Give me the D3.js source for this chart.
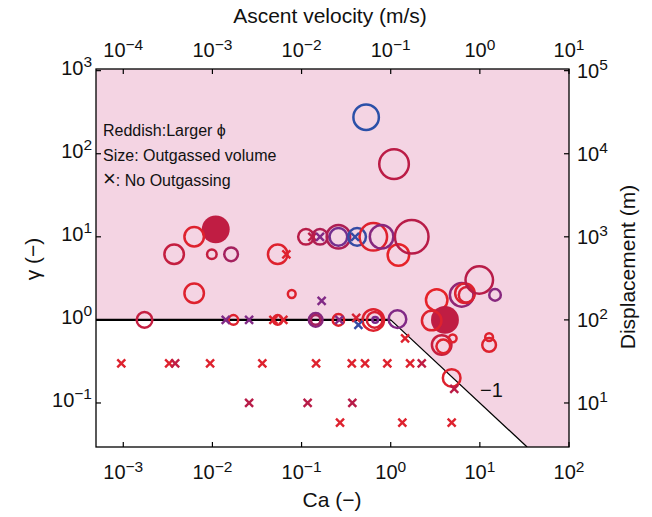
<!DOCTYPE html>
<html>
<head>
<meta charset="utf-8">
<script src="https://cdn.jsdelivr.net/npm/d3@7"></script>
<style>
  html, body { margin: 0; padding: 0; background: #fff; }
  svg { display: block; font-family: "Liberation Sans", Arial, sans-serif; }
</style>
</head>
<body>
<svg id="chart" width="652" height="517"></svg>
<script>
// Outgassing runs: capillary number, gamma, porosity (0 = small, 1 = large), outgassed volume, filled marker
const outCa    = [0.53, 1.09, 0.0109, 0.00624, 0.00372, 0.00985, 0.0162, 0.054, 0.00624, 0.0776,
                  0.00173, 0.0172, 0.054, 0.144, 0.144, 0.259, 0.638, 0.66, 0.67, 1.19,
                  3.28, 4.06, 2.88, 6.25, 6.8, 7.1, 9.85, 14.8, 3.73, 3.89,
                  4.96, 12.7, 12.7, 4.83, 1.22, 0.112, 0.161, 0.259, 0.259, 0.42,
                  0.638, 0.79, 1.72];
const outGamma = [275, 75, 12.3, 10.0, 6.16, 6.16, 6.16, 6.16, 2.09, 2.05,
                  1.0, 1.0, 1.0, 1.0, 1.0, 1.0, 1.0, 1.0, 1.0, 1.02,
                  1.74, 1.0, 0.98, 2.0, 2.09, 2.0, 3.02, 2.0, 0.5, 0.48,
                  0.60, 0.62, 0.5, 0.2, 6.04, 10, 10, 10, 10, 10,
                  10, 10, 10];
const outPhi   = [0.0, 0.72, 0.75, 0.95, 0.78, 0.78, 0.6, 0.95, 0.95, 0.95,
                  0.78, 0.95, 0.95, 0.45, 0.6, 0.95, 0.95, 0.9, 0.4, 0.42,
                  1.0, 0.75, 0.95, 0.5, 0.95, 0.9, 0.7, 0.45, 0.8, 0.95,
                  0.95, 0.95, 0.95, 0.95, 1.0, 0.7, 0.65, 0.65, 0.35, 0.05,
                  0.95, 0.45, 0.7];
const outVol   = [60, 79, 60, 37, 37, 11, 20, 37, 37, 8,
                  25, 11, 11, 20, 11, 15, 44, 25, 5, 31,
                  44, 60, 37, 52, 37, 25, 69, 15, 37, 20,
                  8, 8, 20, 31, 44, 25, 25, 52, 31, 31,
                  69, 52, 100];
const outFilled = [0, 0, 1, 0, 0, 0, 0, 0, 0, 0,
                   0, 0, 0, 0, 0, 0, 0, 0, 0, 0,
                   0, 1, 0, 0, 0, 0, 0, 0, 0, 0,
                   0, 0, 0, 0, 0, 0, 0, 0, 0, 0,
                   0, 0, 0];

// Runs without outgassing
const noCa    = [0.0675, 0.168, 0.0141, 0.0258, 0.0483, 0.0625, 0.265, 0.434, 0.41, 1.45,
                 0.132, 0.161, 0.398,
                 0.00095, 0.00327, 0.00382, 0.00942, 0.0363, 0.1455, 0.366, 0.515, 0.916, 1.65, 2.23,
                 0.0258, 0.117, 0.371,
                 0.27, 1.35, 4.83, 5.16];
const noGamma = [6.16, 1.69, 1, 1, 1, 1, 1, 0.87, 1.06, 0.60,
                 10, 10, 10,
                 0.3, 0.3, 0.3, 0.3, 0.3, 0.3, 0.3, 0.3, 0.3, 0.3, 0.3,
                 0.1, 0.1, 0.1,
                 0.058, 0.058, 0.058, 0.148];
const noPhi   = [0.95, 0.42, 0.42, 0.42, 0.95, 0.95, 0.42, 0.05, 0.9, 0.95,
                 0.72, 0.42, 0.05,
                 0.95, 0.95, 0.75, 0.95, 0.95, 0.95, 0.95, 0.95, 0.95, 0.95, 0.75,
                 0.7, 0.7, 0.7,
                 0.95, 0.95, 0.95, 0.72];

// Tick exponents
const caExp    = [-3, -2, -1, 0, 1, 2];
const velExp   = [-4, -3, -2, -1, 0, 1];
const gammaExp = [-1, 0, 1, 2, 3];
const dispExp  = [1, 2, 3, 4, 5];

const legendLines = [
  [["Reddish:Larger ", 16], ["\u03D5", 16]],
  [["Size: Outgassed volume", 16]],
  [["\u00D7", 22], [": No Outgassing", 16]]
];

const W = 652, H = 517;
const pLeft = 96, pRight = 569, pTop = 69, pBottom = 447;
const caMin = Math.pow(10, -3.306), caMax = 100;
const gMin = Math.pow(10, -1.53), gMax = Math.pow(10, 3.02);

const svg = d3.select("#chart");

const x = d3.scaleLog().domain([caMin, caMax]).range([pLeft, pRight]);
const xVel = d3.scaleLog().domain([caMin * 0.1, caMax * 0.1]).range([pLeft, pRight]);
const y = d3.scaleLog().domain([gMin, gMax]).range([pBottom, pTop]);
const yDisp = d3.scaleLog().domain([gMin * 100, gMax * 100]).range([pBottom, pTop]);
const r = d3.scaleSqrt().domain([0, 100]).range([0, 18]);
const color = d3.scaleLinear()
  .domain([0, 0.4, 0.7, 1])
  .range(["#2b50a8", "#7d2a8a", "#b81c48", "#e62329"]);

svg.append("defs").append("clipPath").attr("id", "plotclip")
  .append("rect").attr("x", pLeft).attr("y", pTop)
  .attr("width", pRight - pLeft).attr("height", pBottom - pTop);

const plot = svg.append("g").attr("clip-path", "url(#plotclip)");

// Region above gamma = 1 and gamma = 1/Ca
const caBreak = 1;
const caLow = 1 / gMin;
const region = [[caMin, 1], [caBreak, 1], [caLow, gMin], [caMax, gMin], [caMax, gMax], [caMin, gMax]];
plot.append("path")
  .attr("d", d3.line().x(d => x(d[0])).y(d => y(d[1]))(region) + "Z")
  .attr("fill", "#f4d4e3");

// Boundary lines
plot.append("line")
  .attr("x1", x(caMin)).attr("y1", y(1)).attr("x2", x(caBreak)).attr("y2", y(1))
  .attr("stroke", "#000").attr("stroke-width", 2.2);
plot.append("line")
  .attr("x1", x(caBreak)).attr("y1", y(1)).attr("x2", x(caLow)).attr("y2", y(gMin))
  .attr("stroke", "#000").attr("stroke-width", 1.3);

svg.append("text")
  .attr("x", 480).attr("y", 397)
  .attr("font-size", 20).attr("fill", "#111")
  .text("\u22121");

// Outgassing runs as circles
const outData = outCa.map((c, i) => ({ ca: c, g: outGamma[i], phi: outPhi[i], vol: outVol[i], filled: outFilled[i] }));
plot.selectAll("circle.out").data(outData).enter().append("circle")
  .attr("class", "out")
  .attr("cx", d => x(d.ca)).attr("cy", d => y(d.g))
  .attr("r", d => d.filled ? r(d.vol) : r(d.vol) - 1.2)
  .attr("fill", d => d.filled ? color(d.phi) : "none")
  .attr("stroke", d => d.filled ? "none" : color(d.phi))
  .attr("stroke-width", 2.5);

// Runs without outgassing as crosses
const noData = noCa.map((c, i) => ({ ca: c, g: noGamma[i], phi: noPhi[i] }));
const s = 4;
plot.selectAll("path.no").data(noData).enter().append("path")
  .attr("class", "no")
  .attr("transform", d => `translate(${x(d.ca)},${y(d.g)})`)
  .attr("d", `M${-s},${-s}L${s},${s}M${-s},${s}L${s},${-s}`)
  .attr("stroke", d => color(d.phi))
  .attr("stroke-width", 2.4)
  .attr("fill", "none");

// Frame and inward ticks on all four sides
svg.append("rect")
  .attr("x", pLeft).attr("y", pTop).attr("width", pRight - pLeft).attr("height", pBottom - pTop)
  .attr("fill", "none").attr("stroke", "#000").attr("stroke-width", 1.3);

const tickLen = 5;
const ticks = svg.append("g").attr("stroke", "#000").attr("stroke-width", 1.2);
caExp.forEach(e => {
  const px = x(Math.pow(10, e));
  ticks.append("line").attr("x1", px).attr("x2", px).attr("y1", pBottom).attr("y2", pBottom - tickLen);
});
velExp.forEach(e => {
  const px = xVel(Math.pow(10, e));
  ticks.append("line").attr("x1", px).attr("x2", px).attr("y1", pTop).attr("y2", pTop + tickLen);
});
gammaExp.forEach(e => {
  const py = y(Math.pow(10, e));
  ticks.append("line").attr("x1", pLeft).attr("x2", pLeft + tickLen).attr("y1", py).attr("y2", py);
});
dispExp.forEach(e => {
  const py = yDisp(Math.pow(10, e));
  ticks.append("line").attr("x1", pRight).attr("x2", pRight - tickLen).attr("y1", py).attr("y2", py);
});

// Power-of-ten labels
function powLabel(g, px, py, e, anchor) {
  const t = g.append("text")
    .attr("x", px).attr("y", py)
    .attr("text-anchor", anchor)
    .attr("font-size", 20).attr("fill", "#111");
  t.append("tspan").text("10");
  t.append("tspan").attr("dy", -7.5).attr("font-size", 15.5).text(e < 0 ? "\u2212" + (-e) : String(e));
  return t;
}
const labels = svg.append("g");
caExp.forEach(e => powLabel(labels, x(Math.pow(10, e)), 479, e, "middle"));
velExp.forEach(e => powLabel(labels, xVel(Math.pow(10, e)), 57, e, "middle"));
gammaExp.forEach(e => powLabel(labels, 92, y(Math.pow(10, e)) + 4, e, "end"));
dispExp.forEach(e => powLabel(labels, 577, yDisp(Math.pow(10, e)) + 7, e, "start"));

// Axis titles
svg.append("text").attr("x", 330).attr("y", 23).attr("text-anchor", "middle")
  .attr("font-size", 21).attr("fill", "#111").text("Ascent velocity (m/s)");
svg.append("text").attr("x", 332).attr("y", 507).attr("text-anchor", "middle")
  .attr("font-size", 21).attr("fill", "#111").text("Ca (\u2212)");
svg.append("text").attr("transform", "translate(40,259) rotate(-90)").attr("text-anchor", "middle")
  .attr("font-size", 21).attr("fill", "#111").text("\u03B3 (\u2212)");
svg.append("text").attr("transform", "translate(635,267) rotate(-90)").attr("text-anchor", "middle")
  .attr("font-size", 21).attr("fill", "#111").text("Displacement (m)");

// Legend notes
legendLines.forEach((parts, i) => {
  const t = svg.append("text")
    .attr("x", 103).attr("y", 136 + i * 25)
    .attr("fill", "#111");
  parts.forEach(([str, size]) => t.append("tspan").attr("font-size", size).text(str));
});
</script>
</body>
</html>
